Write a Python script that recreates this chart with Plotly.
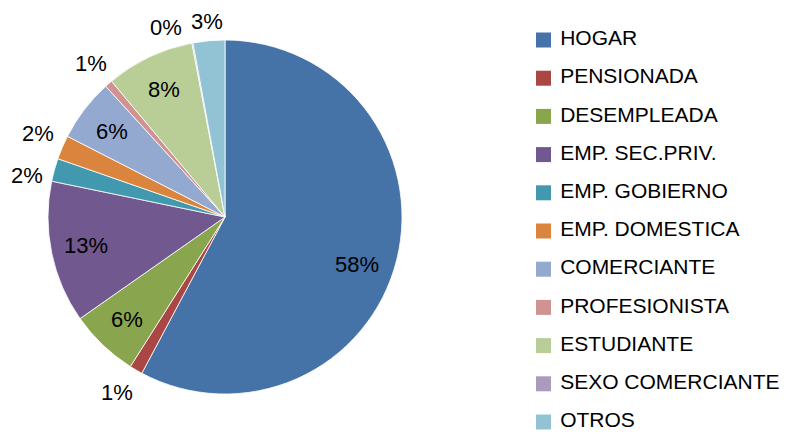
import numpy as np
import plotly.graph_objects as go

# categories and shares (%)
categorias = ["HOGAR", "PENSIONADA", "DESEMPLEADA", "EMP. SEC.PRIV.", "EMP. GOBIERNO",
              "EMP. DOMESTICA", "COMERCIANTE", "PROFESIONISTA", "ESTUDIANTE",
              "SEXO COMERCIANTE", "OTROS"]
porcentajes = [57.9, 1.2, 6.3, 13.0, 2.1, 2.2, 5.7, 0.7, 8.1, 0.1, 2.9]
colores = ["#4572A7", "#AA4643", "#89A54E", "#71588F", "#4198AF", "#DB843D",
           "#93A9CF", "#D19392", "#B9CD96", "#A99BBD", "#92C3D5"]
# which labels sit inside the slice (the rest go outside the pie)
dentro = [True, False, True, True, False, False, True, False, True, False, False]

FUENTE = "Liberation Sans"
W, H = 786, 434
# pie box in pixels
CX, CY, R = 225, 217, 177
# legend rows: first / last row centre (px from top), marker column (px)
LEG_Y0, LEG_Y1, LEG_X = 40, 422, 543.5

fig = go.Figure()

fig.add_trace(go.Pie(
    labels=categorias,
    values=porcentajes,
    sort=False,
    direction="clockwise",
    rotation=0,
    marker=dict(colors=colores, line=dict(color="white", width=0.8)),
    textinfo="none",
    showlegend=False,
    hoverinfo="label+percent",
    domain=dict(x=[(CX - R) / W, (CX + R) / W], y=[1 - (CY + R) / H, 1 - (CY - R) / H]),
))

# percentage labels, placed at the middle angle of each slice
vals = np.array(porcentajes)
total = vals.sum()
fin = np.cumsum(vals) / total * 2 * np.pi
medio = fin - vals / total * np.pi
# small nudges (px) where Excel moved labels apart
desplaza = {"HOGAR": (-5, -13), "SEXO COMERCIANTE": (-22, -11), "PENSIONADA": (-6, 0),
            "EMP. GOBIERNO": (-2, -13), "EMP. DOMESTICA": (0, 3), "OTROS": (0, -7)}
for nombre, v, ang, d in zip(categorias, vals, medio, dentro):
    k = 0.8 if d else 1.15
    dx, dy = desplaza.get(nombre, (0, 0))
    fig.add_annotation(
        x=(CX + k * R * np.sin(ang)) / W,
        y=1 - (CY - k * R * np.cos(ang)) / H,
        xref="paper", yref="paper", showarrow=False,
        xanchor="center", yanchor="middle",
        text=f"{round(v / total * 100):.0f}%",
        xshift=dx, yshift=dy,
        font=dict(family=FUENTE, size=22, color="black"),
    )

# legend as a column of square markers with text, one row per category
filas = list(range(len(categorias)))
paso = (LEG_Y1 - LEG_Y0) / (len(categorias) - 1)
fig.add_trace(go.Scatter(
    x=[0] * len(categorias), y=filas,
    mode="markers",
    marker=dict(symbol="square", size=15, color=colores),
    showlegend=False, hoverinfo="skip", cliponaxis=False,
))
# text trace: a larger invisible marker pushes the text away from the squares
fig.add_trace(go.Scatter(
    x=[0] * len(categorias), y=filas,
    mode="markers+text",
    marker=dict(symbol="square", size=25, opacity=0),
    text=categorias, textposition="middle right",
    textfont=dict(family=FUENTE, size=21, color="black"),
    showlegend=False, hoverinfo="skip", cliponaxis=False,
))

fig.update_layout(
    width=W, height=H,
    margin=dict(l=0, r=0, t=0, b=0),
    paper_bgcolor="white", plot_bgcolor="white",
    showlegend=False,
    xaxis=dict(visible=False, domain=[LEG_X / W, 1], range=[0, 1], fixedrange=True),
    yaxis=dict(visible=False, domain=[0, 1],
               range=[(len(categorias) - 1) + (H - LEG_Y1) / paso, -LEG_Y0 / paso],
               fixedrange=True),
)

# page body has a default 8px margin; drop it so the chart sits at 0,0
fig.write_html("out.html", config={"displayModeBar": False},
               post_script="document.body.style.margin='0';")
